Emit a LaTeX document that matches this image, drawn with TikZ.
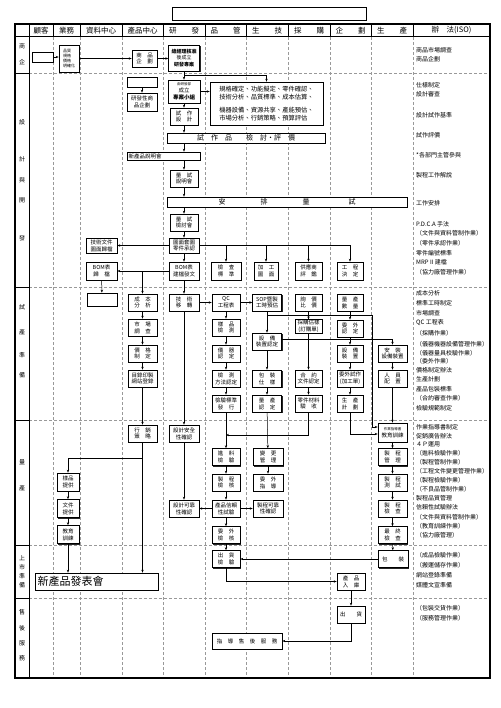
\documentclass[tikz,border=0pt]{standalone}
\usepackage{fontspec}
\setmainfont{Noto Sans CJK TC}
\usetikzlibrary{arrows.meta,shadows}
\begin{document}
\begin{tikzpicture}[x=1pt,y=-1pt,
    box/.style={draw,line width=0.6pt,fill=white,minimum width=28pt,minimum height=17pt,
      inner sep=0.5pt,align=center,font=\fontsize{5.5}{6.8}\selectfont,
      drop shadow={shadow xshift=1.1pt,shadow yshift=-1.1pt,fill=black!85,opacity=1}},
    note/.style={anchor=west,inner sep=0pt,font=\fontsize{6}{7}\selectfont},
    head/.style={font=\fontsize{7.5}{8}\selectfont},
    lab/.style={font=\fontsize{6}{7}\selectfont},
    lane/.style={gray!80,line width=0.4pt,dash pattern=on 3pt off 2pt},
    flow/.style={-{Stealth[length=3pt,width=2.4pt]},line width=0.5pt}]
  \useasboundingbox (0,0) rectangle (500,708);
  \draw[line width=0.6pt] (172,7) rectangle (366,20);
  \foreach \x in {53,80,122,163,205,246,288,330,371,413}
    \draw[lane] (\x,37) -- (\x,678);
  \foreach \y in {73,287,420,545,598} {
    \draw[line width=0.8pt] (15,\y) -- (29,\y);
    \draw[lane] (29,\y) -- (490,\y);
  }
  \foreach \x in {29,53,80,122,163,205,246,288,330,371,413}
    \draw[line width=0.8pt] (\x,24) -- (\x,37);
  \draw[line width=0.8pt] (29,37) -- (29,678);
  \draw[line width=1pt] (15,37) -- (490,37);
  \draw[line width=1.4pt] (15,24) rectangle (490,678);
  \draw
    (41,30.5) node[head] (h1){顧客}
    (66.5,30.5) node[head] (h2){業務}
    (101,30.5) node[head] (h3){資料中心}
    (142.5,30.5) node[head] (h4){產品中心}
    (184,30.5) node[head] (h5){研　　發}
    (225.5,30.5) node[head] (h6){品　　管}
    (267,30.5) node[head] (h7){生　　技}
    (309,30.5) node[head] (h8){採　　購}
    (350.5,30.5) node[head] (h9){企　　劃}
    (392,30.5) node[head] (h10){生　　產}
    (451.5,30.5) node[head] (h11){辦　法(ISO)};
  \draw
    (22,46) node[lab] (p1a){商}
    (22,62) node[lab] (p1b){企}
    (22,122) node[lab] (p2a){設}
    (22,159) node[lab] (p2b){計}
    (22,180) node[lab] (p2c){與}
    (22,200) node[lab] (p2d){開}
    (22,238) node[lab] (p2e){發}
    (22,307) node[lab] (p3a){試}
    (22,332) node[lab] (p3b){產}
    (22,355) node[lab] (p3c){準}
    (22,375) node[lab] (p3d){備}
    (22,462) node[lab] (p4a){量}
    (22,488) node[lab] (p4b){產}
    (22,558) node[lab] (p5a){上}
    (22,567) node[lab] (p5b){市}
    (22,576) node[lab] (p5c){準}
    (22,585) node[lab] (p5d){備}
    (22,612) node[lab] (p6a){售}
    (22,628) node[lab] (p6b){後}
    (22,643) node[lab] (p6c){服}
    (22,658) node[lab] (p6d){務};
  \draw
    (42.5,57) node[box,minimum width=21pt,minimum height=10pt] (cus){}
    (69,58.5) node[box,minimum width=20pt,minimum height=27pt,align=left,font=\fontsize{4}{5}\selectfont] (spec){品質\\規格\\價格\\明確化}
    (144.5,58.5) node[box,minimum width=25pt] (plan){商　品\\企　劃}
    (184,58) node[box,minimum width=31pt,minimum height=26pt,font=\fontsize{5}{6.5}\selectfont] (proj){\bfseries 總經理核准\\後成立\\\bfseries 研發專案}
    (142,82) node[box,minimum width=30pt,minimum height=10pt] (blank1){}
    (142,102) node[box,minimum width=30pt,minimum height=18pt] (rdplan){研發性商\\品企劃}
    (184,91.5) node[box,minimum width=32pt,minimum height=23pt] (team){{\fontsize{3.5}{4.5}\selectfont 由研發部}\\成立\\\bfseries 專案小組}
    (266.5,103.5) node[box,minimum width=113pt,minimum height=43pt,align=left,font=\fontsize{6.3}{8}\selectfont] (spec2){規格確定、功能擬定、零件確認、\\技術分析、品質標準、成本估算、\\[5pt]機器設備、資源共享、產能預估、\\市場分析、行銷策略、預算評估}
    (184,116.5) node[box] (trial){試　作\\設　計}
    (246,138) node[box,minimum width=158pt,minimum height=10pt,font=\fontsize{7}{8}\selectfont] (review){試　作　品　　檢　討・評　價}
    (163.5,156) node[box,minimum width=73pt,minimum height=8pt,text width=70pt,align=left,font=\fontsize{5.5}{6}\selectfont] (brief){新產品說明會}
    (184,178.5) node[box] (trbrief){量　試\\說明會}
    (287,202) node[box,minimum width=240pt,minimum height=10pt,font=\fontsize{7}{8}\selectfont] (arrange){安\hspace{35pt}排\hspace{35pt}量\hspace{39pt}試}
    (184,222.5) node[box] (trrev){量　試\\檢討會}
    (184,245.5) node[box,minimum width=30pt,minimum height=15pt] (drw){圖面套圖\\零件承認}
    (101.5,245.5) node[box,minimum width=31pt,minimum height=15pt] (docarc){技術文件\\圖面歸檔}
    (184,271) node[box,minimum width=30pt,minimum height=18pt] (bom){BOM表\\建檔發文}
    (101.5,271) node[box,minimum width=31pt,minimum height=18pt] (bomarc){BOM表\\歸　檔}
    (226,271) node[box,minimum width=30pt,minimum height=18pt] (insp){檢　查\\標　準}
    (266,271) node[box,minimum width=24pt,minimum height=18pt] (proc){加　工\\圖　面}
    (308.5,271) node[box,minimum width=27pt,minimum height=18pt] (supp){供應商\\評　鑑}
    (350,271) node[box,minimum width=26pt,minimum height=18pt] (eng){工　程\\決　定};
  \draw
    (102,299.5) node[box,minimum width=30pt,minimum height=13pt] (blank2){}
    (142.5,302.5) node[box,minimum width=29pt] (cost){成　本\\分　析}
    (142.5,327.5) node[box,minimum width=29pt] (mkt){市　場\\調　查}
    (142.5,353.5) node[box,minimum width=29pt] (price){價　格\\制　定}
    (142.5,378.5) node[box,minimum width=29pt] (catalog){目錄印製\\網站登錄}
    (184,302.5) node[box,minimum width=30pt] (tech){技　術\\移　轉}
    (226,302.5) node[box] (qc){QC\\工程表}
    (267,302.5) node[box,minimum width=29pt] (sop){SOP暨製\\工時預估}
    (308.5,302.5) node[box,minimum width=27pt] (inq){詢　價\\比　價}
    (350,302.5) node[box,minimum width=26pt] (qty){量　產\\數　量}
    (226,327.5) node[box] (smp){樣　品\\檢　測}
    (226,353.5) node[box] (inst){儀　器\\認　定}
    (226,378.5) node[box] (meth){檢　測\\方法認定}
    (226,403.5) node[box] (std){檢驗標準\\發　行}
    (267,341.5) node[box,minimum width=29pt] (equ){設　備\\裝置認定}
    (267,378.5) node[box,minimum width=29pt] (pack){包　裝\\仕　樣}
    (267,403.5) node[box,minimum width=29pt] (mass){量　產\\認　定}
    (308.5,326.5) node[box,minimum width=27pt,minimum height=13pt] (po){採購估樣\\(訂購單)}
    (308.5,378.5) node[box,minimum width=27pt] (contr){合　約\\文件認定}
    (308.5,403.5) node[box,minimum width=27pt] (recv){零件材料\\驗　收}
    (350,328.5) node[box,minimum width=26pt] (outs){委　外\\認　定}
    (350,353.5) node[box,minimum width=26pt] (dev){設　備\\裝　置}
    (350,378.5) node[box,minimum width=26pt] (otrial){委外試作\\(加工單)}
    (350,403.5) node[box,minimum width=26pt] (sched){生　產\\計　劃}
    (392.5,353.5) node[box,minimum width=29pt] (inst2){安　裝\\設備裝置}
    (392.5,378.5) node[box,minimum width=29pt] (staff){人　員\\配　置};
  \draw
    (142.5,433.5) node[box,minimum width=29pt] (sales){行　銷\\策　略}
    (184,433.5) node[box,minimum width=30pt] (safe){設計安全\\性確認}
    (184,508.5) node[box,minimum width=30pt] (rel){設計可靠\\性確認}
    (226,457) node[box] (iqc){進　料\\檢　驗}
    (226,482.5) node[box] (pchk){製　程\\檢　核}
    (226,508.5) node[box] (ptest){產品信賴\\性試驗}
    (226,535) node[box] (ochk){委　外\\檢　核}
    (268,457) node[box,minimum width=30pt] (chg){變　更\\管　理}
    (268,482.5) node[box,minimum width=30pt] (guide){委　外\\指　導}
    (268,508.5) node[box,minimum width=30pt] (prel){製程可靠\\性確認}
    (392.5,432.5) node[box,minimum width=29pt,minimum height=19pt] (train){{\fontsize{3.5}{4.5}\selectfont 作業指導書}\\教育訓練}
    (392.5,457) node[box,minimum width=29pt] (pmgt){製　程\\管　理}
    (392.5,482.5) node[box,minimum width=29pt] (ptst){製　程\\測　試}
    (392.5,508.5) node[box,minimum width=29pt] (pins){製　程\\檢　查}
    (392.5,535) node[box,minimum width=29pt] (final){最　終\\檢　查}
    (68,482) node[box,minimum width=22pt,minimum height=18pt] (smp2){樣品\\提供}
    (68,508.5) node[box,minimum width=22pt,minimum height=18pt] (doc2){文件\\提供}
    (68,534.5) node[box,minimum width=22pt,minimum height=18pt] (edu){教育\\訓練}
    (96.5,581.5) node[box,minimum width=123pt,text width=118pt,align=left,font=\fontsize{11}{12}\selectfont] (launch){新產品發表會}
    (226,559) node[box] (oqc){出　貨\\檢　驗}
    (351,581.5) node[box] (stock){產　品\\入　庫}
    (393,559) node[box,minimum width=30pt] (pkg){包　　裝}
    (351,614.5) node[box] (ship){出　　貨}
    (247,641) node[box,minimum width=70pt,minimum height=16pt] (svc){指　導　售　後　服　務};
  \draw
    (416,50) node[note] (n1){商品市場調查}
    (416,59) node[note] (n2){商品企劃}
    (416,85) node[note] (n3){仕樣制定}
    (416,94) node[note] (n4){設計審查}
    (416,115) node[note] (n5){設計試作基準}
    (416,135) node[note] (n6){試作評價}
    (416,155) node[note] (n7){*各部門主管參與}
    (416,175) node[note] (n8){製程工作解說}
    (416,203) node[note] (n9){工作安排}
    (416,224) node[note] (n10){P.D.C.A 手法}
    (416,233) node[note] (n11){（文件與資料管制作業）}
    (416,243) node[note] (n12){（零件承認作業）}
    (416,253) node[note] (n13){零件編號標準}
    (416,262) node[note] (n14){MRP II 建檔}
    (416,272) node[note] (n15){（協力廠管理作業）}
    (416,293) node[note] (n16){成本分析}
    (416,303) node[note] (n17){標準工時制定}
    (416,313) node[note] (n18){市場調查}
    (416,323) node[note] (n19){QC 工程表}
    (416,333) node[note] (n20){（採購作業）}
    (416,344) node[note] (n21){（儀器機器設備管理作業）}
    (416,353) node[note] (n22){（儀器量具校驗作業）}
    (416,361) node[note] (n23){（委外作業）}
    (416,370) node[note] (n24){價格制定辦法}
    (416,379) node[note] (n25){生產計劃}
    (416,389) node[note] (n26){產品包裝標準}
    (416,398) node[note] (n27){（合約審查作業）}
    (416,408) node[note] (n28){檢驗規範制定}
    (416,427) node[note] (n29){作業指導書制定}
    (416,436) node[note] (n30){促銷廣告辦法}
    (416,444) node[note] (n31){４Ｐ運用}
    (416,453) node[note] (n32){（進料檢驗作業）}
    (416,462) node[note] (n33){（製程管制作業）}
    (416,471) node[note] (n34){（工程文件變更管理作業）}
    (416,480) node[note] (n35){（製程檢驗作業）}
    (416,489) node[note] (n36){（不良品管制作業）}
    (416,498) node[note] (n37){製程品質管理}
    (416,507) node[note] (n38){信賴性試驗辦法}
    (416,517) node[note] (n39){（文件與資料管制作業）}
    (416,526) node[note] (n40){（教育訓練作業）}
    (416,535) node[note] (n41){（協力廠管理）}
    (416,555) node[note] (n42){（成品檢驗作業）}
    (416,565) node[note] (n43){（搬運儲存作業）}
    (416,575) node[note] (n44){網站登錄準備}
    (416,585) node[note] (n45){媒體文宣準備}
    (416,608) node[note] (n46){（包裝交貨作業）}
    (416,618) node[note] (n47){（服務管理作業）};
  \coordinate (br) at (184,75);
  \coordinate (j1) at (267,315);
  \coordinate (j2) at (372,315);
  \begin{scope}[flow]
    \draw (cus.east) -- (cus.east -| spec.west);
    \draw (spec) -- (plan);
    \draw (plan) -- (plan -| proj.west);
    \draw (proj) -- (team);
    \draw (br) -| (spec2.north);
    \draw (team) -- (team -| spec2.west);
    \draw (team) -- (trial);
    \draw (blank1) -- (rdplan);
    \draw (trial) -- (trial |- review.north);
    \draw (trial |- review.south) -- (trial |- brief.north);
    \draw (trial |- brief.south) -- (trbrief);
    \draw (trbrief) -- (trbrief |- arrange.north);
    \draw (trbrief |- arrange.south) -- (trrev);
    \draw (trrev) -- (drw);
    \draw (drw) -- (bom);
    \draw (drw) -- (docarc);
    \draw (bom) -- (bomarc);
    \draw[-] (drw.east) -- (eng |- drw);
    \draw (insp |- drw) -- (insp);
    \draw (proc |- drw) -- (proc);
    \draw (supp |- drw) -- (supp);
    \draw (eng |- drw) -- (eng);
    \draw (bomarc) -- (blank2);
    \draw (cost |- bom) -- (cost);
    \draw (bom) -- (tech);
    \draw (cost) -- (mkt);
    \draw (mkt) -- (price);
    \draw (price) -- (catalog);
    \draw (catalog) -- (sales);
    \draw (tech) -- (qc);
    \draw (qc) -- (sop);
    \draw (qc) -- (smp);
    \draw (smp) -- (inst);
    \draw (inst) -- (meth);
    \draw (meth) -- (std);
    \draw (std) -- (iqc);
    \draw (sop) -- (equ);
    \draw (equ) -- (pack);
    \draw (pack) -- (mass);
    \draw (mass) -- (chg);
    \draw (inq) -- (po);
    \draw (po) -- (contr);
    \draw (contr) -- (recv);
    \draw (recv) |- (std |- 0,435);
    \draw (j1) -- (j2) |- (train.west |- 0,427);
    \draw (equ.east |- 0,339) -| (inst2);
    \draw (qty) -- (outs);
    \draw (outs) -- (dev);
    \draw (dev) -- (otrial);
    \draw (otrial) -- (sched);
    \draw (sched) |- (train.west |- 0,434);
    \draw (inst2) -- (staff);
    \draw (staff) -- (train);
    \draw (sales) -- (sales |- launch.north);
    \draw (sales |- 0,458) -| (smp2);
    \draw (smp2) -- (doc2);
    \draw (doc2) -- (edu);
    \draw (edu) -- (edu |- launch.north);
    \draw (tech) -- (safe);
    \draw (safe) -- (rel);
    \draw (iqc) -- (pchk);
    \draw (pchk) -- (ptest);
    \draw (ptest) -- (ochk);
    \draw (ochk) -- (oqc);
    \draw (ptest) -- (rel);
    \draw (ptest) -- (prel);
    \draw (chg) -- (guide);
    \draw (train) -- (pmgt);
    \draw (pmgt) -- (ptst);
    \draw (ptst) -- (pins);
    \draw (pins) -- (final);
    \draw (final) -- (pkg);
    \draw (pkg) -- (oqc);
    \draw (oqc) |- (stock);
    \draw (stock) -- (ship);
    \draw (ship) |- (svc);
  \end{scope}
\end{tikzpicture}
\end{document}
